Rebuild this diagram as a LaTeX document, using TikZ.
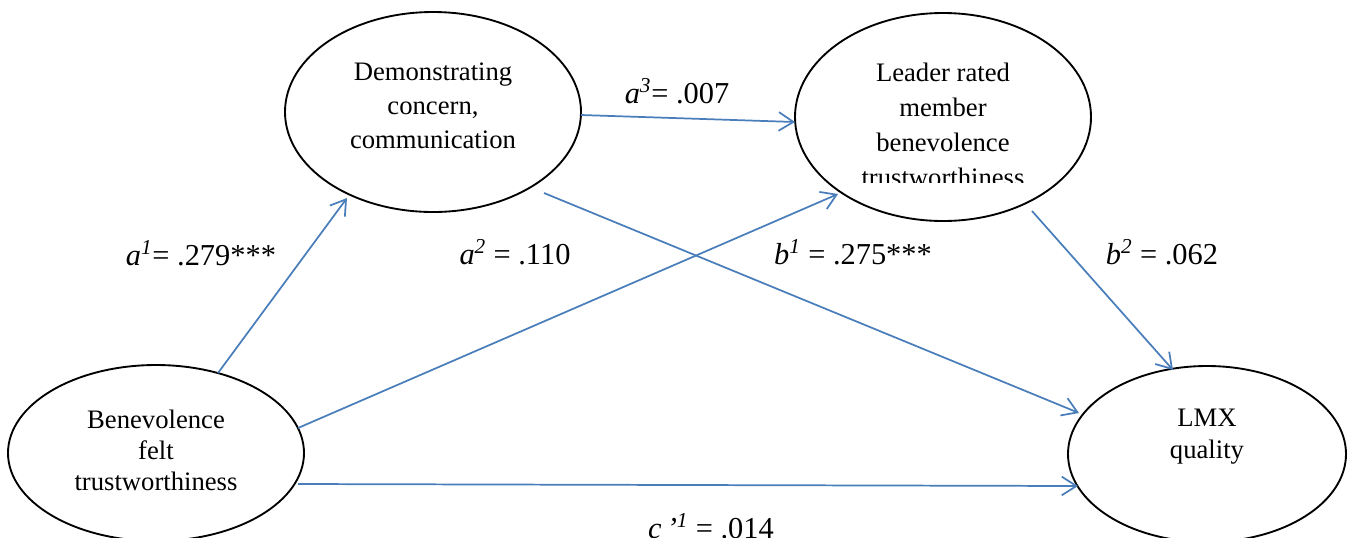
\documentclass[tikz,border=0pt]{standalone}
\usepackage{fontspec}
\setmainfont{Liberation Serif}
\usetikzlibrary{arrows.meta,shapes.geometric,calc}
\definecolor{pathblue}{HTML}{4A7EBB}
\begin{document}
\begin{tikzpicture}[x=0.75pt,y=-0.75pt,
  construct/.style={ellipse, draw=black, line width=1.4pt, inner sep=0pt, outer sep=0pt},
  ctext/.style={align=center, inner sep=0pt},
  effect/.style={draw=pathblue, line width=1.3pt, -{Straight Barb[length=11pt,width=14pt,line width=1.3pt]}},
  coef/.style={inner sep=0pt, anchor=base, font=\fontsize{22.8}{27}\selectfont}]
\useasboundingbox (0,0) rectangle (1349,537);

% constructs
\node[construct, minimum width=222pt, minimum height=150pt] (D) at (433,112) {};
\node[construct, minimum width=222pt, minimum height=156pt] (L) at (943,117) {};
\node[construct, minimum width=222pt, minimum height=132pt] (B) at (156,453) {};
\node[construct, minimum width=208.5pt, minimum height=132pt] (M) at (1207,454) {};

% construct labels
\node[ctext, font=\fontsize{20}{25.5}\selectfont] (Dt) at ($(D)+(0,-6)$) {Demonstrating\\concern,\\communication};
\begin{scope}
  \clip (780,0) rectangle (1100,182);
  \node[ctext, font=\fontsize{20}{26.25}\selectfont] (Lt) at ($(L)+(0,7.5)$) {Leader rated\\member\\benevolence\\trustworthiness};
\end{scope}
\node[ctext, font=\fontsize{20}{23.25}\selectfont] (Bt) at ($(B)+(0,-3)$) {Benevolence\\felt\\trustworthiness};
\node[ctext, font=\fontsize{20}{24}\selectfont] (Mt) at ($(M)+(0,-17)$) {LMX\\quality};

% paths
\draw[effect] ($(B)+(62,-80)$) -- ($(D)+(-86,86)$);
\draw[effect] ($(B)+(142,-25)$) -- ($(L)+(-105,77)$);
\draw[effect] ($(D)+(148,3)$) -- ($(L)+(-148,5)$);
\draw[effect] ($(D)+(111,81)$) -- ($(M)+(-128,-41)$);
\draw[effect] ($(L)+(89,94)$) -- ($(M)+(-34,-84)$);
\draw[effect] ($(B)+(142,31)$) -- ($(M)+(-129,32)$);

% path coefficients
\node[coef] (ca1) at (201,265) {\textit{a}\textsuperscript{\textit{1}}= .279***};
\node[coef] (ca2) at (515,264) {\textit{a}\textsuperscript{\textit{2}} = .110};
\node[coef] (cb1) at (853,264) {\textit{b}\textsuperscript{\textit{1}} = .275***};
\node[coef] (cb2) at (1162,264) {\textit{b}\textsuperscript{\textit{2}} = .062};
\node[coef] (ca3) at (677,103) {\textit{a}\textsuperscript{\textit{3}}= .007};
\node[coef] (cc) at (711,538) {\textit{c\,’}\textsuperscript{\textit{1}} = .014};
\end{tikzpicture}
\end{document}
